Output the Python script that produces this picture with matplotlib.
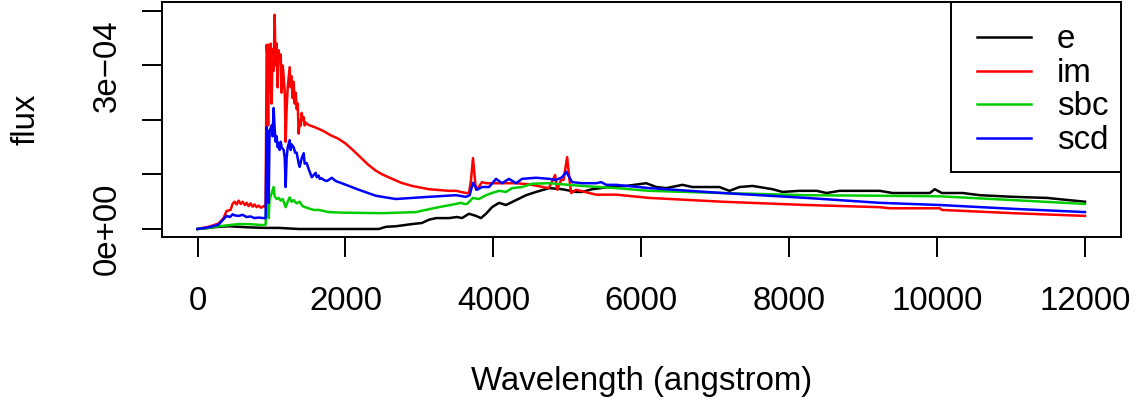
import numpy as np
import matplotlib
matplotlib.use("Agg")
import matplotlib.pyplot as plt
from matplotlib.patches import Rectangle
from matplotlib.lines import Line2D

plt.rcParams['font.family'] = ['Liberation Sans', 'DejaVu Sans']

# ---- data (flux in units of 1e-4) ----
wl_e = [0, 149, 284, 420, 691, 908, 1097, 1368, 1910, 2452, 2546, 2682, 2899, 3034, 3129,
        3224, 3400, 3508, 3576, 3671, 3766, 3833, 3901, 3982, 4077, 4172, 4307, 4443, 4578,
        4754, 4930, 5120, 5201, 5337, 5567, 5797, 6014, 6068, 6204, 6339, 6556, 6691, 7057,
        7193, 7328, 7504, 7775, 7910, 8140, 8371, 8506, 8682, 8913, 9089, 9224, 9400, 9671,
        9901, 9969, 10064, 10348, 10579, 11026, 11486, 12000]
flux_e = [0, 0.02, 0.04, 0.05, 0.03, 0.02, 0.02, 0.0, 0.0, 0.0, 0.04, 0.05, 0.09, 0.11, 0.17,
          0.20, 0.20, 0.22, 0.20, 0.28, 0.24, 0.20, 0.28, 0.40, 0.48, 0.44, 0.53, 0.62, 0.68,
          0.75, 0.73, 0.68, 0.68, 0.73, 0.77, 0.79, 0.83, 0.84, 0.77, 0.75, 0.81, 0.77, 0.77,
          0.70, 0.77, 0.79, 0.73, 0.68, 0.70, 0.70, 0.66, 0.70, 0.70, 0.70, 0.70, 0.66, 0.66,
          0.66, 0.73, 0.66, 0.66, 0.62, 0.59, 0.57, 0.50]

wl_im = [0, 149, 284, 352, 393, 447, 474, 501, 530, 555, 585, 610, 640, 664, 691, 718, 745,
         772, 800, 826, 860, 894, 914, 921, 935, 948, 955, 962, 975, 990, 1002, 1015, 1029,
         1043, 1056, 1070, 1084, 1097, 1111, 1125, 1138, 1152, 1165, 1180, 1192, 1205, 1220,
         1246, 1260, 1273, 1287, 1300, 1314, 1328, 1341, 1355, 1368, 1382, 1396, 1409, 1422,
         1436, 1449, 1463, 1500, 1600, 1700, 1800, 1900, 2000, 2100, 2200, 2300, 2400, 2500,
         2600, 2750, 2900, 3130, 3400, 3500, 3560, 3630, 3671, 3698, 3725, 3752, 3766, 3806,
         3847, 3901, 3982, 4300, 4480, 4750, 4836, 4863, 4917, 4950, 4998, 5030, 5052, 5120,
         5296, 5391, 5662, 6109, 7098, 8235, 9224, 9360, 10037, 10064, 11026, 12000]
flux_im = [0, 0.04, 0.10, 0.20, 0.33, 0.35, 0.46, 0.50, 0.45, 0.52, 0.46, 0.50, 0.44, 0.48,
           0.42, 0.47, 0.41, 0.45, 0.40, 0.43, 0.39, 0.42, 0.40, 0.45, 3.38, 3.10, 1.90, 3.38,
           2.50, 3.40, 2.30, 3.30, 2.90, 3.93, 3.00, 3.40, 2.60, 3.28, 3.10, 3.20, 2.50, 3.00,
           2.80, 2.50, 1.60, 2.20, 2.60, 2.97, 2.60, 2.80, 2.40, 2.70, 2.30, 2.50, 2.20, 2.30,
           1.75, 2.00, 1.90, 2.13, 2.00, 2.05, 1.90, 1.95, 1.91, 1.86, 1.80, 1.72, 1.66, 1.57,
           1.45, 1.32, 1.19, 1.08, 1.00, 0.94, 0.85, 0.79, 0.73, 0.70, 0.70, 0.68, 0.66, 0.66,
           0.90, 1.30, 0.90, 0.72, 0.78, 0.86, 0.84, 0.84, 0.84, 0.82, 0.75, 0.99, 0.72, 0.90,
           0.90, 1.32, 0.90, 0.66, 0.72, 0.66, 0.63, 0.63, 0.57, 0.50, 0.44, 0.40, 0.38, 0.38,
           0.35, 0.29, 0.24]

wl_sbc = [0, 149, 284, 420, 555, 691, 894, 921, 935, 948, 962, 975, 1002, 1029, 1043, 1070,
          1097, 1125, 1152, 1192, 1220, 1246, 1273, 1300, 1341, 1382, 1420, 1476, 1520, 1571,
          1639, 1774, 1950, 2500, 2953, 3224, 3495, 3562, 3603, 3644, 3725, 3806, 3901, 3982,
          4077, 4172, 4253, 4389, 4524, 4754, 5201, 5662, 6109, 7098, 8235, 9224, 10037,
          11026, 12000]
flux_sbc = [0, 0.02, 0.05, 0.07, 0.09, 0.09, 0.07, 0.08, 0.62, 0.55, 0.20, 0.55, 0.65, 0.77,
            0.60, 0.55, 0.57, 0.52, 0.55, 0.40, 0.50, 0.58, 0.50, 0.53, 0.47, 0.50, 0.42, 0.39,
            0.37, 0.35, 0.35, 0.31, 0.30, 0.29, 0.31, 0.39, 0.46, 0.48, 0.46, 0.46, 0.57, 0.55,
            0.62, 0.66, 0.70, 0.68, 0.75, 0.77, 0.83, 0.84, 0.79, 0.75, 0.70, 0.66, 0.62, 0.61,
            0.60, 0.53, 0.46]

wl_scd = [0, 149, 284, 352, 393, 440, 474, 501, 555, 610, 664, 718, 772, 826, 894, 921, 935,
          948, 962, 975, 1002, 1016, 1029, 1043, 1056, 1070, 1084, 1097, 1111, 1125, 1138, 1165,
          1180, 1192, 1205, 1220, 1246, 1260, 1273, 1300, 1320, 1341, 1368, 1382, 1409, 1436,
          1449, 1476, 1503, 1517, 1545, 1571, 1598, 1612, 1639, 1653, 1680, 1707, 1747, 1774,
          1815, 1869, 1950, 2181, 2411, 2587, 2682, 2899, 3129, 3495, 3630, 3680, 3725, 3779,
          3847, 3942, 4036, 4118, 4212, 4307, 4389, 4578, 4754, 4849, 4930, 4985, 5066, 5201,
          5391, 5459, 5526, 5662, 6109, 7098, 8235, 9224, 10037, 11026, 12000]
flux_scd = [0, 0.03, 0.08, 0.18, 0.24, 0.22, 0.27, 0.25, 0.24, 0.26, 0.22, 0.23, 0.20, 0.21,
            0.20, 0.20, 1.87, 1.75, 0.48, 1.80, 1.90, 1.70, 2.22, 1.85, 1.60, 1.70, 1.50, 1.58,
            1.45, 1.60, 1.50, 1.45, 1.30, 0.77, 1.30, 1.50, 1.63, 1.45, 1.55, 1.50, 1.40, 1.40,
            1.20, 1.14, 1.30, 1.39, 1.20, 1.21, 1.10, 1.05, 0.95, 0.99, 1.03, 0.95, 0.98, 0.92,
            0.93, 0.90, 0.88, 0.90, 0.94, 0.88, 0.84, 0.72, 0.61, 0.57, 0.55, 0.57, 0.59, 0.62,
            0.59, 0.62, 0.85, 0.72, 0.77, 0.77, 0.92, 0.84, 0.92, 0.84, 0.92, 0.94, 0.92, 0.90,
            0.95, 1.05, 0.86, 0.84, 0.84, 0.86, 0.81, 0.81, 0.75, 0.66, 0.57, 0.48, 0.44, 0.37,
            0.31]

FLUX_UNIT = 1e-4
series_names = ["e", "im", "sbc", "scd"]
series_colors = ["black", "#FF0000", "#00CD00", "#0000FF"]
series_wl = [wl_e, wl_im, wl_sbc, wl_scd]
series_flux = [flux_e, flux_im, flux_sbc, flux_scd]

x_ticks = [0, 2000, 4000, 6000, 8000, 10000, 12000]
y_ticks = [0, 1e-4, 2e-4, 3e-4, 4e-4]
y_ticklabels = ["0e+00", "", "", "3e\u221204", ""]

# ---- figure ----
W, H = 1141, 403
fig = plt.figure(figsize=(W / 100, H / 100), dpi=100)
def fx(px): return px / W
def fy(py): return 1 - py / H

L, R, T, B = 162, 1120.5, 2, 237
ax = fig.add_axes([fx(L), fy(B), fx(R) - fx(L), fy(T) - fy(B)])

FS = 23.8
LW = 1.8
for wl, fl, c in zip(series_wl, series_flux, series_colors):
    ax.plot(wl, np.array(fl) * FLUX_UNIT, color=c, lw=LW, solid_joinstyle='round')

ax.set_xlim(-480, 12480)
ax.set_ylim(-0.147e-4, 4.165e-4)
ax.set_xticks(x_ticks)
ax.set_xticklabels([str(v) for v in x_ticks])
ax.set_yticks(y_ticks)
ax.set_yticklabels(y_ticklabels, rotation=90, va='center')
ax.tick_params(axis='both', direction='out', length=14.4, width=1.4, labelsize=FS)
ax.tick_params(axis='x', pad=21)
ax.tick_params(axis='y', pad=13.7)
for s in ax.spines.values():
    s.set_linewidth(1.4)

fig.text(fx((L + R) / 2), fy(390), "Wavelength (angstrom)", fontsize=FS,
         ha='center', va='baseline')
fig.text(fx(26), fy((T + B) / 2), "flux", fontsize=FS, rotation=90,
         ha='center', va='center')

# legend box drawn manually
lx0, lx1, ly0, ly1 = 950.7, 1120.5, 2, 172
fig.patches.append(Rectangle((fx(lx0), fy(ly1)), fx(lx1) - fx(lx0), fy(ly0) - fy(ly1),
                             transform=fig.transFigure, facecolor='white',
                             edgecolor='black', lw=1.4, zorder=5))
rows = [37, 70.7, 104.4, 138]
for name, c, ry in zip(series_names, series_colors, rows):
    fig.add_artist(Line2D([fx(976.7), fx(1030.7)], [fy(ry), fy(ry)],
                          transform=fig.transFigure, color=c, lw=LW, zorder=6))
    fig.text(fx(1056.7), fy(ry + 11), name, fontsize=FS, ha='left', va='baseline',
             zorder=6)

fig.savefig("out.png", dpi=100)
